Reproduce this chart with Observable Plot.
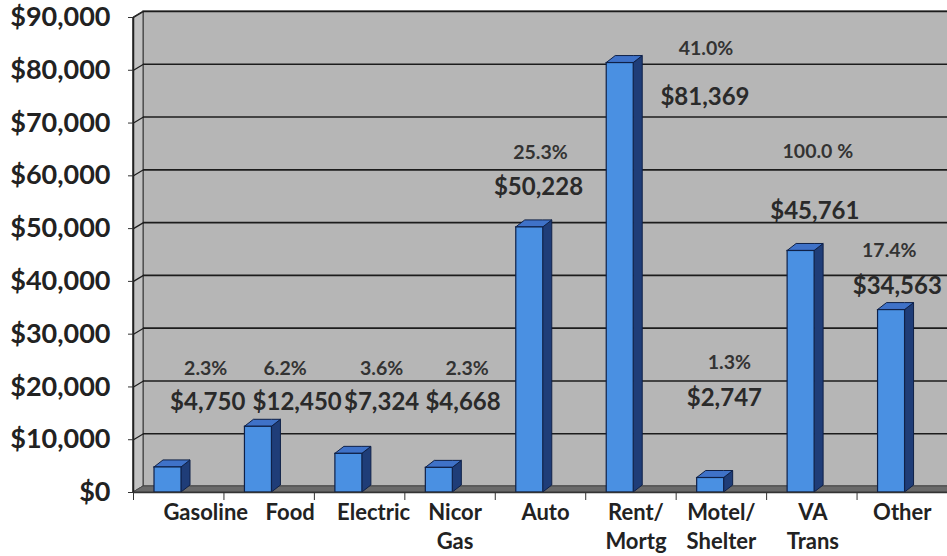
<!DOCTYPE html>
<html><head><meta charset="utf-8">
<script src="https://cdn.jsdelivr.net/npm/d3@7"></script>
<script src="https://cdn.jsdelivr.net/npm/@observablehq/plot@0.6"></script>
<style>html,body{margin:0;padding:0;background:#fff;overflow:hidden} svg{display:block;overflow:hidden}</style>
</head><body><div id="chart"></div>
<script>
// ---- data ----
const categories = ["Gasoline", "Food", "Electric", "Nicor\nGas", "Auto", "Rent/\nMortg", "Motel/\nShelter", "VA\nTrans", "Other"];
const amounts = [4750, 12450, 7324, 4668, 50228, 81369, 2747, 45761, 34563];
const percents = ["2.3%", "6.2%", "3.6%", "2.3%", "25.3%", "41.0%", "1.3%", "100.0 %", "17.4%"];
const yTicks = [0, 10000, 20000, 30000, 40000, 50000, 60000, 70000, 80000, 90000];

// ---- annotation placement (as in the original: label heights in $ units, horizontal nudges in px) ----
const pctAt = [23500, 23500, 23500, 23500, 64400, 84100, 24600, 64600, 45800];
const amtAt = [17100, 17100, 17100, 17100, 57800, 74800, 17800, 53200, 39000];
const pctNudge = [27, 16, 22, 17, 0, 75, 8, 6, -13];
const amtNudge = [29, 28, 22, 13, -2, 74, 3, 3, -5];
const catNudge = [27, 21, 14, 5, 5, 5, 0, 1, 0];

// ---- layout ----
const W = 947, H = 556, mL = 133, mR = 0, mT = 17, mB = 64;
const bandPx = (W - mL - mR) / categories.length;
const xPerPx = 1 / bandPx;
const yPerPx = 90000 / (H - mT - mB);
const depthX = 9 * xPerPx, depthY = 7 * yPerPx;
const wallX = 10 * xPerPx, wallY = 6 * yPerPx;

const rows = categories.map((c, i) => ({
  i, c, v: amounts[i], p: percents[i],
  x1: i + 21 * xPerPx, x2: i + 48 * xPerPx
}));

const sides = rows.flatMap(r => [
  {i: r.i, x: r.x2, y1: 0, y2: r.v},
  {i: r.i, x: r.x2 + depthX, y1: depthY, y2: r.v + depthY}
]);
const tops = rows.flatMap(r => [
  {i: r.i, x: r.x1, y1: r.v, y2: r.v},
  {i: r.i, x: r.x1 + depthX, y1: r.v, y2: r.v + depthY},
  {i: r.i, x: r.x2, y1: r.v, y2: r.v + depthY},
  {i: r.i, x: r.x2 + depthX, y1: r.v + depthY, y2: r.v + depthY}
]);
const leftWall = [
  {x: 0, y1: 0, y2: 90000},
  {x: wallX, y1: wallY, y2: 90000 + wallY}
];
const floor = [
  {x: 0, y1: 0, y2: 0},
  {x: wallX, y1: 0, y2: wallY},
  {x: 9, y1: 0, y2: wallY},
  {x: 9 + wallX, y1: wallY, y2: wallY}
];
const fmt = d3.format(",");

const chart = Plot.plot({
  width: W, height: H,
  marginLeft: mL, marginRight: mR, marginTop: mT, marginBottom: mB,
  style: {fontFamily: "Lato, 'Open Sans', sans-serif", background: "#fff", color: "#222"},
  x: {domain: [0, 9]},
  y: {domain: [0, 90000]},
  marks: [
    // back wall
    Plot.rect([0], {x1: 0, x2: 9.2, y1: 0, y2: 90000, dx: 10, dy: -6, fill: "#b6b6b6", stroke: "#3a3a3a", strokeWidth: 1.2}),
    // left side wall
    Plot.areaY(leftWall, {x: "x", y1: "y1", y2: "y2", fill: "#c2c2c2", stroke: "#3a3a3a", strokeWidth: 1}),
    // gridlines on wall
    Plot.ruleY(yTicks.slice(1), {x1: 0, x2: 9.2, dx: 10, dy: -6, stroke: "#1c1c1c", strokeWidth: 1.6}),
    Plot.link(yTicks.slice(1), {x1: 0, y1: d => d, x2: wallX, y2: d => d + wallY, stroke: "#1c1c1c", strokeWidth: 1.2}),
    // floor
    Plot.areaY(floor, {x: "x", y1: "y1", y2: "y2", fill: "#6a6a6a", stroke: "#4a4a4a", strokeWidth: 1}),
    // bars: side, top, front
    Plot.areaY(sides, {x: "x", y1: "y1", y2: "y2", z: "i", fill: "#1f3d78", stroke: "#0f2148", strokeWidth: 1}),
    Plot.areaY(tops, {x: "x", y1: "y1", y2: "y2", z: "i", fill: "#3f72c8", stroke: "#0f2148", strokeWidth: 1}),
    Plot.rect(rows, {x1: "x1", x2: "x2", y1: 0, y2: "v", fill: "#4a90e2", stroke: "#0f2148", strokeWidth: 1.2}),
    // axes
    Plot.ruleX([0], {y1: 0, y2: 90000, stroke: "#222", strokeWidth: 1.5}),
    Plot.ruleY([0], {x1: 0, x2: 9, stroke: "#333", strokeWidth: 1.5}),
    Plot.axisY(yTicks, {tickFormat: d => "$" + fmt(d), fontSize: 27, fontWeight: "bold", tickSize: 5, tickPadding: 18, fill: "#222", stroke: "#333"}),
    Plot.axisX(d3.range(0, 10), {tickFormat: () => "", tickSize: 8, stroke: "#333"}),
    // category labels
    Plot.text(rows, {x: d => d.i + 0.5 + catNudge[d.i] * xPerPx, y: 0, text: "c", dy: 7, lineAnchor: "top", fontSize: 22, fontWeight: "bold", lineHeight: 1.32, fill: "#222"}),
    // data labels
    Plot.text(rows, {x: d => d.i + 0.5 + pctNudge[d.i] * xPerPx, y: d => pctAt[d.i], text: "p", fontSize: 19.5, fontWeight: "bold", fill: "#333"}),
    Plot.text(rows, {x: d => d.i + 0.5 + amtNudge[d.i] * xPerPx, y: d => amtAt[d.i], text: d => "$" + fmt(d.v), fontSize: 24, fontWeight: "bold", fill: "#2a2a2a"})
  ]
});
document.getElementById("chart").appendChild(chart);
</script>
</body></html>
